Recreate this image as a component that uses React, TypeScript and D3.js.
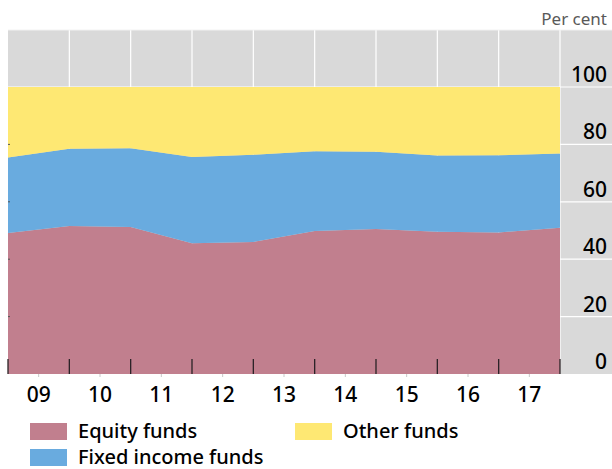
import React from "react";
import * as d3 from "d3";

// Year-end observation points (end-2008 ... end-2017)
const pointIndex = [0, 1, 2, 3, 4, 5, 6, 7, 8, 9];
const yearLabels = ["09", "10", "11", "12", "13", "14", "15", "16", "17"];
const equityFunds = [49.1, 51.6, 51.2, 45.6, 46.0, 49.8, 50.5, 49.6, 49.3, 51.0];
const fixedIncomeFunds = [26.3, 26.9, 27.5, 30.0, 30.4, 27.8, 26.9, 26.5, 26.9, 25.8];
const otherFunds = [24.6, 21.5, 21.3, 24.4, 23.6, 22.4, 22.6, 23.9, 23.8, 23.2];
const yTicks = [0, 20, 40, 60, 80, 100];

const seriesKeys = ["equity", "fixed", "other"];
const seriesNames = ["Equity funds", "Fixed income funds", "Other funds"];
const seriesColors = ["#c17f8e", "#69abdf", "#fee873"];

const W = 612;
const H = 469;
const FONT = "'Noto Sans', 'DejaVu Sans', sans-serif";

export default function App() {
  const plotLeft = 8;
  const dataRight = 560;
  const plotRight = 612;
  const plotTop = 30;
  const plotBottom = 374;

  const x = d3.scaleLinear().domain([0, yearLabels.length]).range([plotLeft, dataRight]);
  const y = d3.scaleLinear().domain([0, 100]).range([plotBottom, 87]);

  const table = pointIndex.map((i) => ({
    i,
    equity: equityFunds[i],
    fixed: fixedIncomeFunds[i],
    other: otherFunds[i],
  }));
  const stacked = d3.stack<any>().keys(seriesKeys)(table);
  const area = d3
    .area<any>()
    .x((d) => x(d.data.i))
    .y0((d) => y(d[0]))
    .y1((d) => y(d[1]));

  const boundaries = d3.range(yearLabels.length + 1);

  return (
    <svg
      width={W}
      height={H}
      style={{ position: "absolute", left: 0, top: 0, display: "block" }}
      fontFamily={FONT}
    >
      <rect x={0} y={0} width={W} height={H} fill="#ffffff" />
      {/* plot background */}
      <rect
        x={plotLeft}
        y={plotTop}
        width={plotRight - plotLeft}
        height={plotBottom - plotTop}
        fill="#d9d9d9"
      />
      {/* vertical gridlines */}
      {boundaries.slice(1).map((b) => (
        <line
          key={"v" + b}
          x1={x(b)}
          x2={x(b)}
          y1={plotTop}
          y2={plotBottom}
          stroke="#ffffff"
          strokeWidth={1.2}
        />
      ))}
      {/* horizontal gridlines */}
      {yTicks.slice(1).map((t) => (
        <line
          key={"h" + t}
          x1={plotLeft}
          x2={plotRight}
          y1={y(t)}
          y2={y(t)}
          stroke="#ffffff"
          strokeWidth={1.2}
        />
      ))}
      <line x1={plotLeft} x2={plotRight} y1={plotTop} y2={plotTop} stroke="#f2f2f2" strokeWidth={1} />
      {/* stacked areas */}
      {stacked.map((s, k) => (
        <path key={s.key} d={area(s) || ""} fill={seriesColors[k]} />
      ))}
      {/* bottom major ticks (inside) */}
      {boundaries.map((b) => (
        <line
          key={"t" + b}
          x1={x(b)}
          x2={x(b)}
          y1={plotBottom - 15}
          y2={plotBottom}
          stroke="#2a2226"
          strokeWidth={1.3}
        />
      ))}
      {/* minor ticks below axis */}
      {yearLabels.map((_, i) => (
        <line
          key={"m" + i}
          x1={x(i + 0.5)}
          x2={x(i + 0.5)}
          y1={plotBottom}
          y2={plotBottom + 3}
          stroke="#c8c8c8"
          strokeWidth={1}
        />
      ))}
      {/* left small ticks */}
      {yTicks.slice(1, -1).map((t) => (
        <line key={"l" + t} x1={plotLeft} x2={plotLeft + 2} y1={y(t)} y2={y(t)} stroke="#555" strokeWidth={1} />
      ))}
      {/* y labels */}
      {yTicks.map((t) => (
        <text
          key={"yl" + t}
          x={607}
          y={y(t) - 5}
          textAnchor="end"
          fontSize={21}
          fontWeight={500}
          fill="#000"
        >
          {t}
        </text>
      ))}
      {/* x labels */}
      {yearLabels.map((lab, i) => (
        <text
          key={"xl" + lab}
          x={x(i + 0.5)}
          y={402}
          textAnchor="middle"
          fontSize={21}
          fontWeight={500}
          fill="#000"
        >
          {lab}
        </text>
      ))}
      <text x={607} y={25} textAnchor="end" fontSize={17} fill="#595959">
        Per cent
      </text>
      {/* legend */}
      {[
        { k: 0, sx: 30, sy: 423, tx: 78, ty: 438 },
        { k: 2, sx: 295, sy: 423, tx: 343, ty: 438 },
        { k: 1, sx: 30, sy: 449, tx: 78, ty: 464 },
      ].map((L) => (
        <g key={"lg" + L.k}>
          <rect x={L.sx} y={L.sy} width={37} height={17} fill={seriesColors[L.k]} />
          <text x={L.tx} y={L.ty} fontSize={20} fontWeight={500} fill="#000">
            {seriesNames[L.k]}
          </text>
        </g>
      ))}
    </svg>
  );
}
